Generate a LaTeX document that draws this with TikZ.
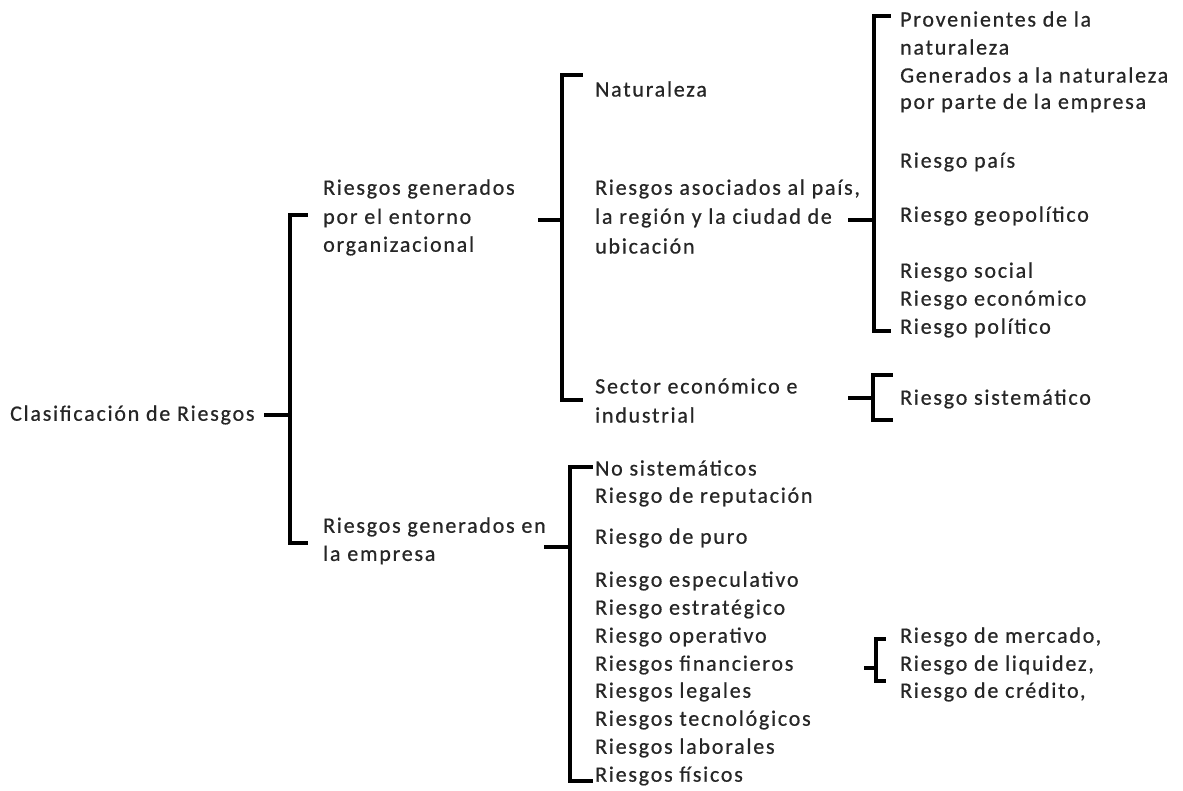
\documentclass[tikz,border=0pt]{standalone}
\usepackage{fontspec}
\usetikzlibrary{calc}
\setmainfont[LetterSpace=8,FakeBold=0.6]{Carlito}
\begin{document}
\begin{tikzpicture}[x=1pt,y=-1pt,
  txt/.style={anchor=west,inner sep=0pt,font=\fontsize{22}{24}\selectfont,text=black!85},
  brk/.style={line width=4.8pt,line cap=rect,line join=miter}]
\useasboundingbox[fill=white] (0,0) rectangle (1183,790);
% ---- texts
\node[txt] (cl) at (10,415) {Clasificación de Riesgos};
\node[txt] (e1) at (323,189) {Riesgos generados};
\node[txt] (e2) at (323,218) {por el entorno};
\node[txt] (e3) at (323,246) {organizacional};
\node[txt] (g1) at (323,527) {Riesgos generados en};
\node[txt] (g2) at (323,555) {la empresa};
\node[txt] (n1) at (595,89) {Naturaleza};
\node[txt] (p1) at (595,189) {Riesgos asociados al país,};
\node[txt] (p2) at (595,218) {la región y la ciudad de};
\node[txt] (p3) at (595,246) {ubicación};
\node[txt] (s1) at (595,386) {Sector económico e};
\node[txt] (s2) at (595,415) {industrial};
\node[txt] (q1) at (900,19) {Provenientes de la};
\node[txt] (q2) at (900,47) {naturaleza};
\node[txt] (q3) at (900,75) {Generados a la naturaleza};
\node[txt] (q4) at (900,103) {por parte de la empresa};
\node[txt] (q5) at (900,162) {Riesgo país};
\node[txt] (q6) at (900,216) {Riesgo geopolítico};
\node[txt] (q7) at (900,272) {Riesgo social};
\node[txt] (q8) at (900,300) {Riesgo económico};
\node[txt] (q9) at (900,328) {Riesgo político};
\node[txt] (rs) at (900,399) {Riesgo sistemático};
\node[txt] (l1) at (595,468) {No sistemáticos};
\node[txt] (l2) at (595,497) {Riesgo de reputación};
\node[txt] (l3) at (595,538) {Riesgo de puro};
\node[txt] (l4) at (595,581) {Riesgo especulativo};
\node[txt] (l5) at (595,609) {Riesgo estratégico};
\node[txt] (l6) at (595,637) {Riesgo operativo};
\node[txt] (l7) at (595,665) {Riesgos financieros};
\node[txt] (l8) at (595,692) {Riesgos legales};
\node[txt] (l9) at (595,720) {Riesgos tecnológicos};
\node[txt] (l10) at (595,748) {Riesgos laborales};
\node[txt] (l11) at (595,776) {Riesgos físicos};
\node[txt] (f1) at (900,637) {Riesgo de mercado,};
\node[txt] (f2) at (900,665) {Riesgo de liquidez,};
\node[txt] (f3) at (900,692) {Riesgo de crédito,};
% ---- bracket 1
\coordinate (b1t) at (290,215); \coordinate (b1b) at (290,543); \coordinate (b1m) at (290,415);
\coordinate (b1s) at (266,415);
\draw[brk] ($(b1t)+(16,0)$) -- (b1t) -- (b1b) -- ($(b1b)+(16,0)$);
\draw[brk] (b1s) -- (b1m);
% ---- bracket 2
\coordinate (b2t) at (562,75); \coordinate (b2b) at (562,400); \coordinate (b2m) at (562,220);
\coordinate (b2s) at (540,220);
\draw[brk] ($(b2t)+(19,0)$) -- (b2t) -- (b2b) -- ($(b2b)+(19,0)$);
\draw[brk] (b2s) -- (b2m);
% ---- bracket 3
\coordinate (b3t) at (874,16); \coordinate (b3b) at (874,331); \coordinate (b3m) at (874,220);
\coordinate (b3s) at (850,220);
\draw[brk] ($(b3t)+(15,0)$) -- (b3t) -- (b3b) -- ($(b3b)+(15,0)$);
\draw[brk] (b3s) -- (b3m);
% ---- bracket 4
\coordinate (b4t) at (873,375); \coordinate (b4b) at (873,420); \coordinate (b4m) at (873,398);
\coordinate (b4s) at (850,398);
\draw[brk] ($(b4t)+(18,0)$) -- (b4t) -- (b4b) -- ($(b4b)+(18,0)$);
\draw[brk] (b4s) -- (b4m);
% ---- bracket 5
\coordinate (b5t) at (570,467); \coordinate (b5b) at (570,781); \coordinate (b5m) at (570,547);
\coordinate (b5s) at (546,547);
\draw[brk] ($(b5t)+(21,0)$) -- (b5t) -- (b5b) -- ($(b5b)+(21,0)$);
\draw[brk] (b5s) -- (b5m);
% ---- bracket 6
\coordinate (b6t) at (876,639); \coordinate (b6b) at (876,681); \coordinate (b6m) at (876,668);
\coordinate (b6s) at (866,668);
\draw[brk] ($(b6t)+(8,0)$) -- (b6t) -- (b6b) -- ($(b6b)+(8,0)$);
\draw[brk] (b6s) -- (b6m);
\end{tikzpicture}
\end{document}
